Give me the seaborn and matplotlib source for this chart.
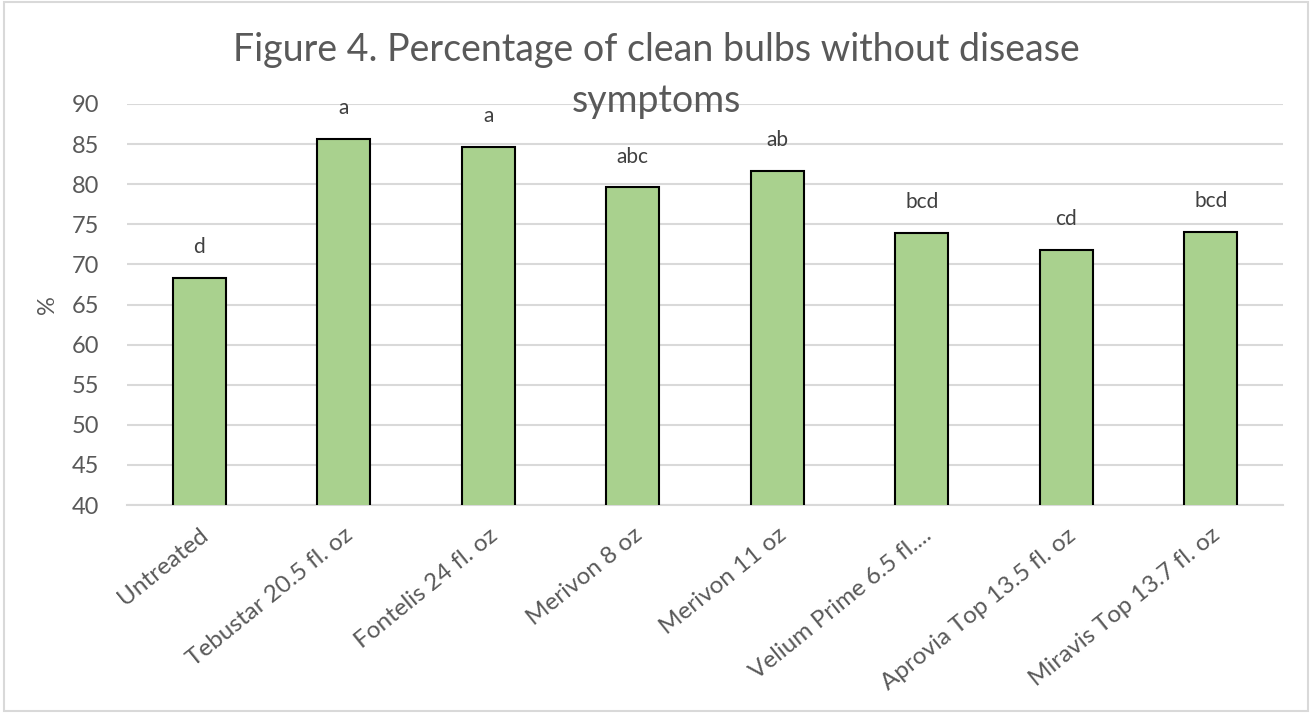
import matplotlib
matplotlib.use("Agg")
import matplotlib.pyplot as plt
import seaborn as sns
import pandas as pd

categories = ["Untreated", "Tebustar 20.5 fl. oz", "Fontelis 24 fl. oz", "Merivon 8 oz",
              "Merivon 11 oz", "Velium Prime 6.5 fl....", "Aprovia Top 13.5 fl. oz",
              "Miravis Top 13.7 fl. oz"]
values = [68.3, 85.6, 84.7, 79.6, 81.7, 73.9, 71.8, 74.0]
letters = ["d", "a", "a", "abc", "ab", "bcd", "cd", "bcd"]
yticks = [40, 45, 50, 55, 60, 65, 70, 75, 80, 85, 90]

sns.set_theme(style="white")
plt.rcParams['font.family'] = ['Lato', 'DejaVu Sans']
txt = "#595959"

df = pd.DataFrame({"cat": categories, "val": values})
fig = plt.figure(figsize=(13.12, 7.13), dpi=100)
ax = fig.add_axes([127/1312, 1 - 505/713, 1156/1312, 401/713])
sns.barplot(data=df, x="cat", y="val", color="#a9d18e", edgecolor="black",
            linewidth=1.5, width=0.37, saturation=1, ax=ax, zorder=3)
ax.set_ylim(40, 90)
ax.set_yticks(yticks)
ax.set_yticklabels([str(t) for t in yticks], fontsize=17, color=txt)
ax.yaxis.grid(True, color="#d9d9d9", linewidth=1.5, zorder=0)
ax.set_axisbelow(True)
for s in ["top", "right", "left"]:
    ax.spines[s].set_visible(False)
ax.spines["bottom"].set_color("#d9d9d9")
ax.spines["bottom"].set_linewidth(1.5)
ax.tick_params(axis="y", length=0, pad=20)
ax.tick_params(axis="x", length=0, pad=14)
ax.set_xticks(range(len(categories)))
ax.set_xticklabels(categories, rotation=39, ha="right", rotation_mode="anchor",
                   fontsize=17.5, color=txt)
ax.set_xlabel("")
ax.set_ylabel("%", fontsize=17, color=txt, labelpad=10)

for i, (v, l) in enumerate(zip(values, letters)):
    ax.annotate(l, (i, v), xytext=(0, 15), textcoords="offset points",
                ha="center", va="bottom", fontsize=15, color="#404040")

fig.text(0.5, 1 - 50/713, "Figure 4. Percentage of clean bulbs without disease",
         ha="center", va="center", fontsize=27, color=txt)
fig.text(0.5, 1 - 101/713, "symptoms", ha="center", va="center", fontsize=27, color=txt)

border = plt.Rectangle((0.003, 0.003), 0.994, 0.994, transform=fig.transFigure,
                       fill=False, edgecolor="#d9d9d9", linewidth=1.5)
fig.patches.append(border)
fig.savefig("out.png", dpi=100)
